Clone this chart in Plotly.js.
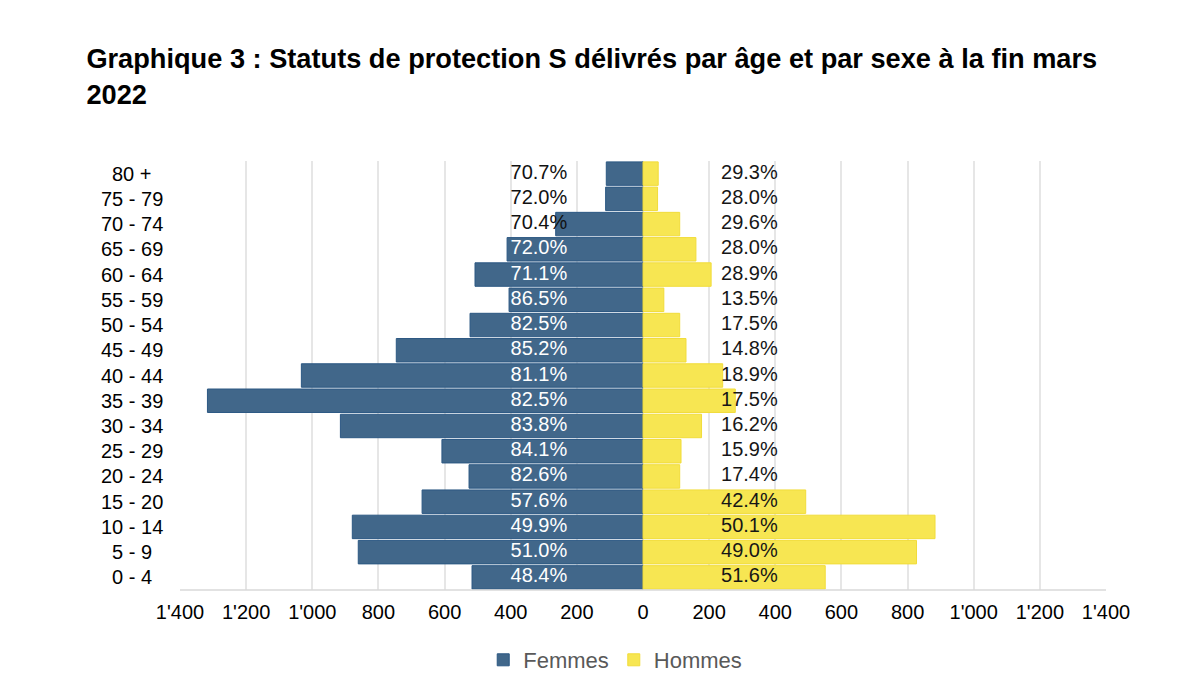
<!DOCTYPE html>
<html>
<head>
<meta charset="utf-8">
<script src="https://cdn.plot.ly/plotly-3.0.1.min.js"></script>
<style>
  html, body { margin: 0; padding: 0; background: white; }
  #chart { width: 1200px; height: 691px; }
</style>
</head>
<body>
<div id="chart"></div>
<script>
// Statuts de protection S par âge et par sexe (fin mars 2022)
const ages = ['0 - 4', '5 - 9', '10 - 14', '15 - 20', '20 - 24', '25 - 29', '30 - 34', '35 - 39',
              '40 - 44', '45 - 49', '50 - 54', '55 - 59', '60 - 64', '65 - 69', '70 - 74', '75 - 79', '80 +'];
const femmes = [517, 861, 879, 668, 526, 608, 915, 1317, 1033, 746, 523, 405, 508, 411, 264, 113, 111];
const hommes = [551, 827, 883, 492, 111, 115, 177, 279, 241, 130, 111, 63, 206, 160, 111, 44, 46];
const pctFemmes = ['48.4%', '51.0%', '49.9%', '57.6%', '82.6%', '84.1%', '83.8%', '82.5%',
                   '81.1%', '85.2%', '82.5%', '86.5%', '71.1%', '72.0%', '70.4%', '72.0%', '70.7%'];
const pctHommes = ['51.6%', '49.0%', '50.1%', '42.4%', '17.4%', '15.9%', '16.2%', '17.5%',
                   '18.9%', '14.8%', '17.5%', '13.5%', '28.9%', '28.0%', '29.6%', '28.0%', '29.3%'];
const tickVals = [-1400, -1200, -1000, -800, -600, -400, -200, 0, 200, 400, 600, 800, 1000, 1200, 1400];

// 1'400 style labels, absolute values on both sides
const tickText = tickVals.map(v => {
    const a = Math.abs(v);
    return a >= 1000 ? Math.floor(a / 1000) + "'" + String(a % 1000).padStart(3, '0') : String(a);
});

const FONT = 'Liberation Sans, Arial, Helvetica, sans-serif';
const blue = '#41678a';
const yellow = '#f7e652';

const data = [
    {
        type: 'bar',
        orientation: 'h',
        name: 'Femmes',
        y: ages,
        x: femmes.map(v => -v),
        customdata: femmes,
        marker: {color: blue, line: {color: '#2c5883', width: 1}},
        hovertemplate: '%{y}<br>Femmes: %{customdata}<extra></extra>'
    },
    {
        type: 'bar',
        orientation: 'h',
        name: 'Hommes',
        y: ages,
        x: hommes,
        marker: {color: yellow, line: {color: '#f1dc3a', width: 1}},
        hovertemplate: '%{y}<br>Hommes: %{x}<extra></extra>'
    },
    // percentage labels
    {
        type: 'scatter',
        mode: 'text',
        y: ages,
        x: ages.map(() => -229),
        text: pctFemmes,
        textposition: 'middle left',
        textfont: {family: FONT, size: 20,
                   color: femmes.map(v => v > 300 ? 'white' : '#111111')},
        showlegend: false,
        hoverinfo: 'skip'
    },
    {
        type: 'scatter',
        mode: 'text',
        y: ages,
        x: ages.map(() => 236),
        text: pctHommes,
        textposition: 'middle right',
        textfont: {family: FONT, size: 20, color: '#161616'},
        showlegend: false,
        hoverinfo: 'skip'
    }
];

// age labels centred in the left margin
const ageLabels = ages.map(a => ({
    text: a,
    xref: 'paper',
    yref: 'y',
    x: -0.052,
    y: a,
    xanchor: 'center',
    yanchor: 'middle',
    showarrow: false,
    font: {family: FONT, size: 20, color: '#000000'}
}));

const layout = {
    width: 1200,
    height: 691,
    barmode: 'relative',
    bargap: 0.07,
    title: {
        text: '<b>Graphique 3 : Statuts de protection S délivrés par âge et par sexe à la fin mars<br>2022</b>',
        font: {family: FONT, size: 27.2, color: '#000000'},
        x: 0.072,
        xanchor: 'left',
        xref: 'container',
        y: 0.901,
        yanchor: 'top',
        yref: 'container'
    },
    xaxis: {
        range: [-1400, 1400],
        tickmode: 'array',
        tickvals: tickVals,
        ticktext: tickText,
        showgrid: true,
        gridcolor: '#e6e6e6',
        gridwidth: 2,
        zeroline: false,
        showline: false,
        ticks: '',
        tickfont: {family: FONT, size: 20, color: '#000000'},
        ticklabelstandoff: 8,
        fixedrange: true
    },
    yaxis: {
        type: 'category',
        range: [-0.5, 16.5],
        showgrid: false,
        zeroline: false,
        showline: false,
        showticklabels: false,
        ticks: '',
        fixedrange: true
    },
    annotations: ageLabels,
    shapes: [
        {type: 'line', xref: 'paper', yref: 'paper', x0: 0, x1: 1, y0: 0, y1: 0,
         line: {color: '#d9d9d9', width: 1.5}}
    ],
    legend: {
        orientation: 'h',
        x: 0.47,
        xanchor: 'center',
        xref: 'paper',
        y: 1 - 660 / 691,
        yanchor: 'middle',
        yref: 'container',
        font: {family: FONT, size: 22, color: '#595959'},
        itemwidth: 30
    },
    margin: {l: 180, r: 94, t: 161, b: 101},
    plot_bgcolor: 'white',
    paper_bgcolor: 'white'
};

Plotly.newPlot('chart', data, layout, {displayModeBar: false});
</script>
</body>
</html>
